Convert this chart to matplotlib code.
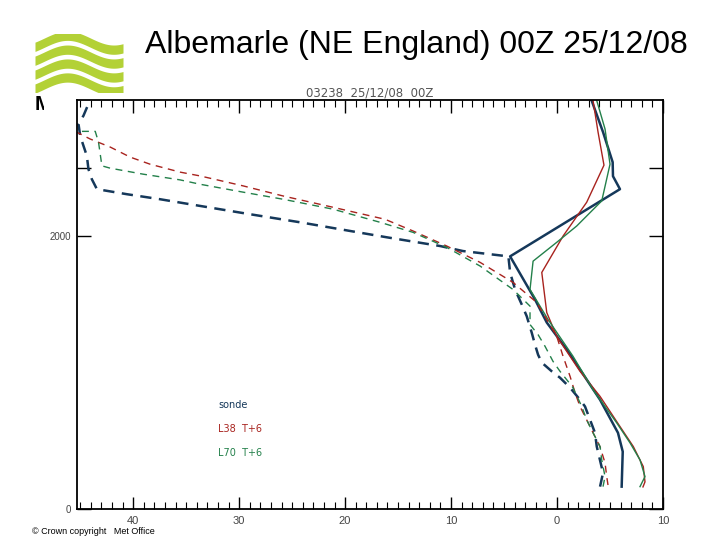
import numpy as np
import matplotlib
matplotlib.use("Agg")
import matplotlib.pyplot as plt
from matplotlib.transforms import Bbox

plt.rcParams['font.family'] = ['Liberation Sans', 'DejaVu Sans']

# 온도 (T, °C) / 고도 (z, m) - 그림에서 읽은 값
sonde_z = [164, 421, 559, 801, 949, 1169, 1368, 1537, 1853, 2346, 2441, 2544, 2765, 2995]
sonde_t = [6.1, 6.2, 5.75, 4.06, 2.8, 0.92, -0.97, -2.08, -4.43, 5.94, 5.28, 5.25, 4.34, 3.27]

l38_z = [162, 199, 311, 458, 605, 826, 1010, 1267, 1441, 1735, 2002, 2250, 2522, 2765, 2995]
l38_t = [8.11, 8.3, 8.14, 7.2, 5.94, 4.06, 2.17, -0.03, -0.97, -1.44, 0.57, 2.8, 4.43, 3.87, 3.4]

l70_z = [164, 238, 360, 485, 632, 875, 1120, 1390, 1610, 1818, 1956, 2076, 2260, 2529, 2787, 2995]
l70_t = [7.83, 8.3, 7.83, 6.89, 5.63, 3.4, 1.51, -0.85, -2.55, -2.26, -0.03, 1.86, 4.22, 5.0, 4.53, 3.75]

# 이슬점
sonde_dz = [164, 265, 458, 559, 752, 801, 890, 963, 1010, 1074, 1132, 1206, 1294, 1414, 1500,
            1610, 1735, 1853, 1892, 1929, 1993, 2039, 2103, 2162, 2223, 2272, 2309, 2346,
            2419, 2493, 2590, 2664, 2738, 2824, 2885, 2971]
sonde_td = [4.06, 4.34, 3.75, 3.58, 2.64, 2.17, 1.23, 0.28, -0.5, -1.44, -1.79, -2.08, -2.39, -2.86, -3.33,
            -3.96, -4.43, -4.59, -8.87, -11.04, -16.07, -19.5, -24.25, -28.96, -33.68, -37.45, -40.59, -43.42,
            -43.9, -44.22, -44.37, -44.69, -45.0, -45.16, -44.69, -44.22]

l38_dz = [176, 237, 338, 456, 752, 853, 973, 1120, 1267, 1390, 1515, 1662, 1809, 1929, 2039,
          2125, 2213, 2296, 2370, 2443, 2471, 2529, 2581, 2655, 2714, 2763]
l38_td = [4.81, 4.69, 4.53, 4.06, 2.17, 1.7, 1.23, 0.57, -0.03, -0.97, -1.92, -4.15, -7.26, -10.41, -13.58,
          -16.23, -21.13, -25.85, -29.62, -33.68, -35.57, -38.4, -40.28, -42.17, -44.06, -45.3]

l70_dz = [164, 238, 360, 458, 559, 654, 752, 890, 936, 1010, 1083, 1193, 1279, 1353, 1488,
          1610, 1782, 1919, 2029, 2103, 2199, 2272, 2324, 2382, 2414, 2456, 2500, 2517, 2691, 2770, 2770]
l70_td = [4.34, 4.53, 4.22, 4.06, 3.4, 2.8, 2.33, 1.51, 1.04, 0.28, -0.38, -1.13, -1.79, -2.55, -2.55,
          -4.15, -7.26, -10.41, -13.58, -16.7, -21.13, -25.85, -29.62, -33.68, -35.57, -39.06, -42.17, -42.95,
          -43.27, -43.58, -45.3]

xticks = [-40, -30, -20, -10, 0, 10]
xtick_labels = ['40', '30', '20', '10', '0', '10']
yticks = [0, 2000, 2500]
ytick_labels = ['0', '2000', '']

navy = '#15385a'
red = '#a8231e'
green = '#23804a'
logo_green = '#b3d136'

fig = plt.figure(figsize=(7.2, 5.4), dpi=100)

# 로고 (물결 무늬)
lax = fig.add_axes([35 / 720, 1 - 92 / 540, 88 / 720, 58 / 540])
xs = np.linspace(0, 1, 200)
for k in range(4):
    mid = 0.13 + k * 0.24 + 0.12 * np.sin(2 * np.pi * (xs * 0.95 - 0.1))
    lax.fill_between(xs, mid - 0.08, mid + 0.08, color=logo_green, lw=0)
lax.set_xlim(0, 1)
lax.set_ylim(0, 1)
lax.axis('off')

mtxt = fig.text(35 / 720, 1 - 104 / 540, 'M', fontsize=15, fontweight='bold', va='center', ha='left')
mtxt.set_clip_box(Bbox([[0, 0], [44, 540]]))
mtxt.set_clip_on(True)

fig.text(416 / 720, 1 - 45 / 540, 'Albemarle (NE England) 00Z 25/12/08', fontsize=23,
         ha='center', va='center')
fig.text(370 / 720, 1 - 93 / 540, '03238  25/12/08  00Z', fontsize=8.5, color='#555555',
         ha='center', va='center', family='DejaVu Sans')
fig.text(32 / 720, 1 - 531 / 540, '\u00a9 Crown copyright   Met Office', fontsize=6.5,
         ha='left', va='center')

ax = fig.add_axes([77 / 720, 1 - 509 / 540, 586 / 720, 409 / 540])

ax.plot(sonde_t, sonde_z, color=navy, lw=1.8)
ax.plot(l38_t, l38_z, color=red, lw=1.0)
ax.plot(l70_t, l70_z, color=green, lw=1.0)
ax.plot(sonde_td, sonde_dz, color=navy, lw=1.8, dashes=(4.5, 3))
ax.plot(l38_td, l38_dz, color=red, lw=1.0, dashes=(5, 4))
ax.plot(l70_td, l70_dz, color=green, lw=1.0, dashes=(5, 4))

ax.set_xlim(-45.3, 10)
ax.set_ylim(0, 3000)

ax.set_xticks(xticks)
ax.set_xticklabels(xtick_labels)
ax.set_xticks(np.arange(-45, 11, 1), minor=True)
ax.set_yticks(yticks)
ax.set_yticklabels(ytick_labels)
ax.tick_params(axis='x', which='major', direction='in', length=9, width=1, top=True,
               labelsize=8, labelcolor='#444444', pad=5)
ax.tick_params(axis='x', which='minor', direction='in', length=5, width=0.8, top=True)
ax.tick_params(axis='y', which='major', direction='in', length=10, width=1, right=True,
               labelsize=7, labelcolor='#444444', pad=4)
for sp in ax.spines.values():
    sp.set_linewidth(1.3)

ax.text(0.241, 0.254, 'sonde', transform=ax.transAxes, color=navy, fontsize=7, va='center',
        family='DejaVu Sans')
ax.text(0.241, 0.196, 'L38  T+6', transform=ax.transAxes, color=red, fontsize=7, va='center',
        family='DejaVu Sans')
ax.text(0.241, 0.137, 'L70  T+6', transform=ax.transAxes, color=green, fontsize=7, va='center',
        family='DejaVu Sans')

fig.savefig('out.png', dpi=100)
